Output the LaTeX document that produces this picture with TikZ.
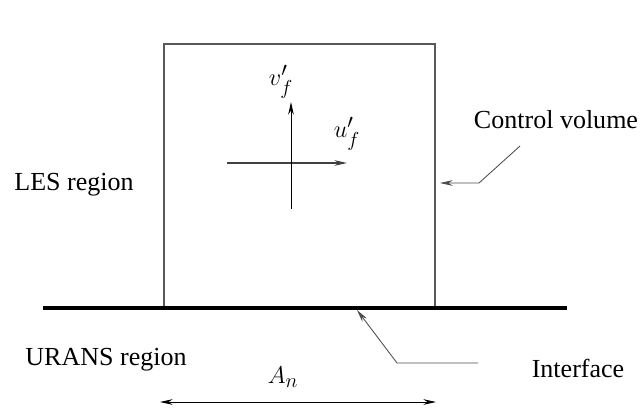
\documentclass[tikz,border=0pt]{standalone}
\usepackage{amsmath}
\usepackage{fontspec}
\setmainfont{Liberation Serif}
\usepackage{tikz}
\usetikzlibrary{
	arrows.meta,
	calc,
	positioning
}
\tikzset{
	lbl/.style={font=\fontsize{18.5}{22}\selectfont, inner sep=0pt},
	mlbl/.style={font=\fontsize{19}{22}\selectfont, inner sep=0pt},
	wall/.style={line width=1pt, black!65},
	leader/.style={line width=0.6pt, black!70},
	tip/.style={-{Stealth[length=9pt, width=4pt]}}
}

\begin{document}
\begin{tikzpicture}[x=0.025cm, y=-0.025cm]
		\useasboundingbox (0,0) rectangle (642,407);
		\coordinate (P1) at (164,44);
		\coordinate (P2) at (435,44);
		\coordinate (Q1) at (164,308);
		\coordinate (Q2) at (435,308);
		\coordinate (I1) at (43,308);
		\coordinate (I2) at (567,308);
		% control volume and interface
		\draw[wall] (Q1)--(P1)--(P2)--(Q2);
		\draw[line width=2.3pt] (I1)--(I2);
		% velocity fluctuations
		\coordinate (H1) at (227,163);
		\coordinate (H2) at (347,163);
		\coordinate (V1) at (291,209);
		\coordinate (V2) at (291,102);
		\draw[tip, line width=0.8pt, black!75] (H1)--(H2);
		\draw[tip, line width=0.7pt] (V1)--(V2);
		\node[mlbl] (vf) at (281,82) {$v'_f$};
		\node[mlbl] (uf) at (347,134) {$u'_f$};
		% labels
		\node[lbl] (les) at (74,185) {LES region};
		\node[lbl] (urans) at (106,360) {URANS region};
		\node[lbl] (cv) at (556,120) {Control volume};
		\node[lbl] (itf) at (578,368) {Interface};
		\node[mlbl] (an) at (283,377) {$A_n$};
		% leaders
		\coordinate (C1) at (520,146);
		\coordinate (C2) at (479,183);
		\coordinate (C3) at (440,183);
		\draw[leader, tip] (C1)--(C2)--(C3);
		\coordinate (F1) at (478,363);
		\coordinate (F2) at (397,363);
		\coordinate (F3) at (357,310);
		\draw[leader, tip] (F1)--(F2)--(F3);
		% width of the control volume
		\coordinate (W1) at (160,402);
		\coordinate (W2) at (436,402);
		\draw[{Stealth[length=9pt, width=4pt]}-{Stealth[length=9pt, width=4pt]}, line width=0.6pt] (W1)--(W2);
	\end{tikzpicture}
\end{document}
